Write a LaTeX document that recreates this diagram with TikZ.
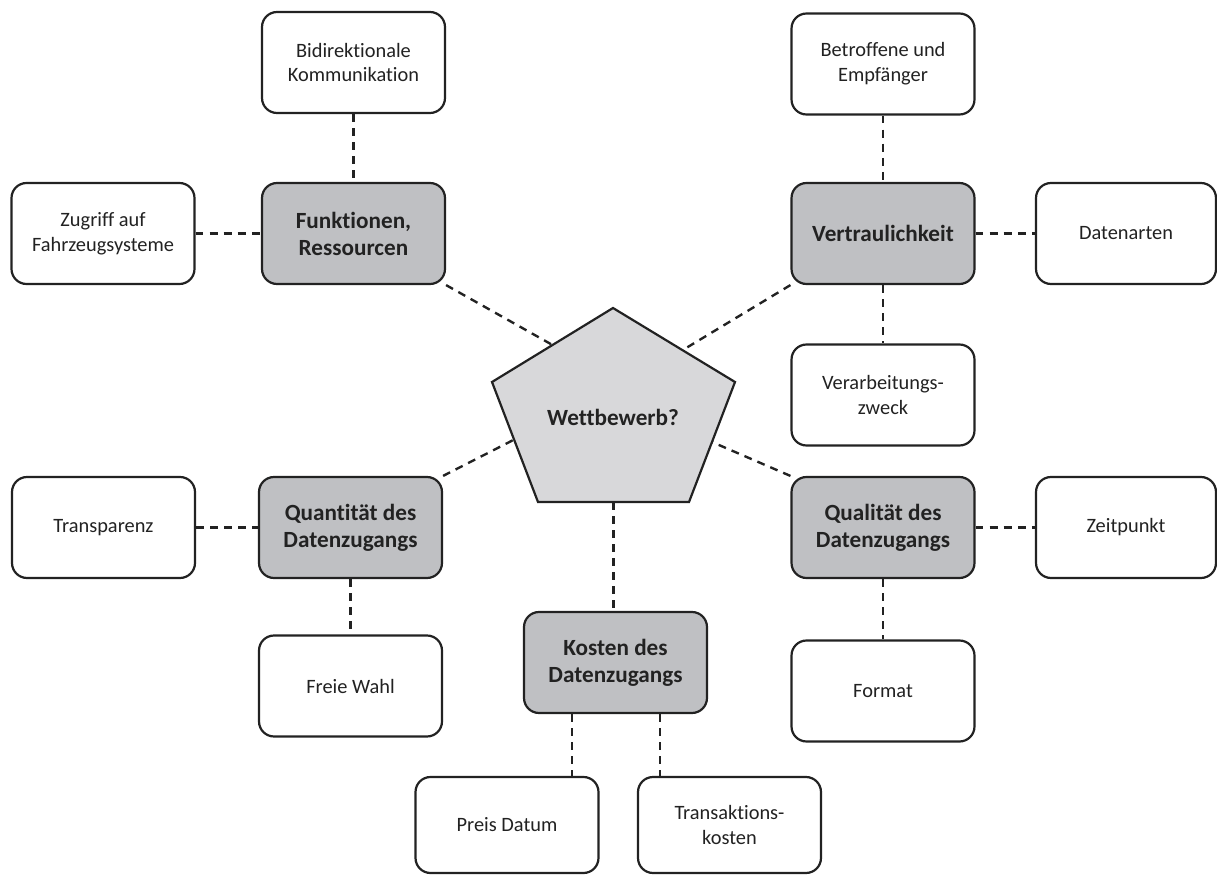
\documentclass[tikz,border=0pt]{standalone}
\usepackage{fontspec}
\setmainfont{Carlito}[Ligatures=NoCommon]
\usetikzlibrary{calc}
\definecolor{hubfill}{RGB}{191,192,195}
\definecolor{corefill}{RGB}{216,216,218}
\definecolor{ink}{RGB}{34,34,34}
\begin{document}
\begin{tikzpicture}[x=0.02cm,y=-0.02cm,
  box/.style={draw=ink, line width=1.25pt, rounded corners=0.3cm,
    minimum width=3.66cm, minimum height=2.02cm, align=center, text=ink,
    inner sep=0pt, font=\fontsize{11.6}{14.2}\selectfont},
  hub/.style={box, fill=hubfill, font=\fontsize{13.2}{15.4}\selectfont\bfseries},
  leaf/.style={box, fill=white},
  link/.style={draw=ink, line width=1.35pt, dash pattern=on 4.5pt off 3.5pt}]
\useasboundingbox (0,0) rectangle (1217,875);

% central pentagon
\coordinate (pt)  at (613,308);
\coordinate (pl)  at (492,382);
\coordinate (pr)  at (735,382);
\coordinate (pbl) at (538,502);
\coordinate (pbr) at (689,502);
\draw[draw=ink, line width=1.25pt, fill=corefill, line join=miter]
  (pt) -- (pr) -- (pbr) -- (pbl) -- (pl) -- cycle;
\node[text=ink, font=\fontsize{13.2}{15.4}\selectfont\bfseries] (core) at (613,417) {Wettbewerb?};

% upper left cluster
\node[leaf] (bidi)    at (353.5,62.5)  {Bidirektionale\\Kommunikation};
\node[hub]  (func)    at (353.5,233.5) {Funktionen,\\Ressourcen};
\node[leaf] (zugriff) at (103,233.5)   {Zugriff auf\\Fahrzeugsysteme};

% upper right cluster
\node[leaf] (betr)    at (883,64)      {Betroffene und\\Empfänger};
\node[hub]  (vertr)   at (883,233.5)   {Vertraulichkeit};
\node[leaf, minimum width=3.6cm] (daten) at (1126,233.5) {Datenarten};
\node[leaf] (verarb)  at (883,395)     {Verarbeitungs-\\zweck};

% lower right cluster
\node[hub]  (qual)    at (883,527.5)   {Qualität des\\Datenzugangs};
\node[leaf, minimum width=3.6cm] (zeit) at (1126,527.5) {Zeitpunkt};
\node[leaf] (format)  at (883,691)     {Format};

% lower left cluster
\node[leaf] (transp)  at (103.5,527.5) {Transparenz};
\node[hub]  (quant)   at (350.5,527.5) {Quantität des\\Datenzugangs};
\node[leaf] (freie)   at (350.5,686)   {Freie Wahl};

% bottom cluster
\node[hub]  (kosten)  at (615.5,662.5) {Kosten des\\Datenzugangs};
\node[leaf, minimum height=1.92cm] (preis) at (507,825)   {Preis Datum};
\node[leaf, minimum height=1.92cm] (trans) at (729.5,825) {Transaktions-\\kosten};

% connectors between boxes
\draw[link] (bidi) -- (func);
\draw[link] (zugriff) -- (func);
\draw[link] (betr) -- (vertr);
\draw[link] (vertr) -- (daten);
\draw[link] (vertr.south) -- (verarb.north);
\draw[link] (qual) -- (zeit);
\draw[link] (qual.south) -- (format.north);
\draw[link] (transp) -- (quant);
\draw[link] (quant) -- (freie);
\coordinate (k1) at ($(kosten.south)+(-43.5,0)$);
\coordinate (k2) at ($(kosten.south)+(44.5,0)$);
\draw[link] (k1) -- (k1 |- preis.north);
\draw[link] (k2) -- (k2 |- trans.north);

% connectors to the pentagon
\coordinate (eul) at ($(pl)!0.5!(pt)$);
\coordinate (eur) at ($(pt)!0.57!(pr)$);
\coordinate (ell) at ($(pl)!0.48!(pbl)$);
\coordinate (elr) at ($(pr)!0.5!(pbr)$);
\coordinate (eb)  at ($(pbl)!0.5!(pbr)$);
\draw[link] (func.south east) -- (eul);
\draw[link] (vertr.south west) -- (eur);
\draw[link] (quant.north east) -- (ell);
\draw[link] (qual.north west) -- (elr);
\draw[link] (eb) -- (eb |- kosten.north);
\end{tikzpicture}
\end{document}
